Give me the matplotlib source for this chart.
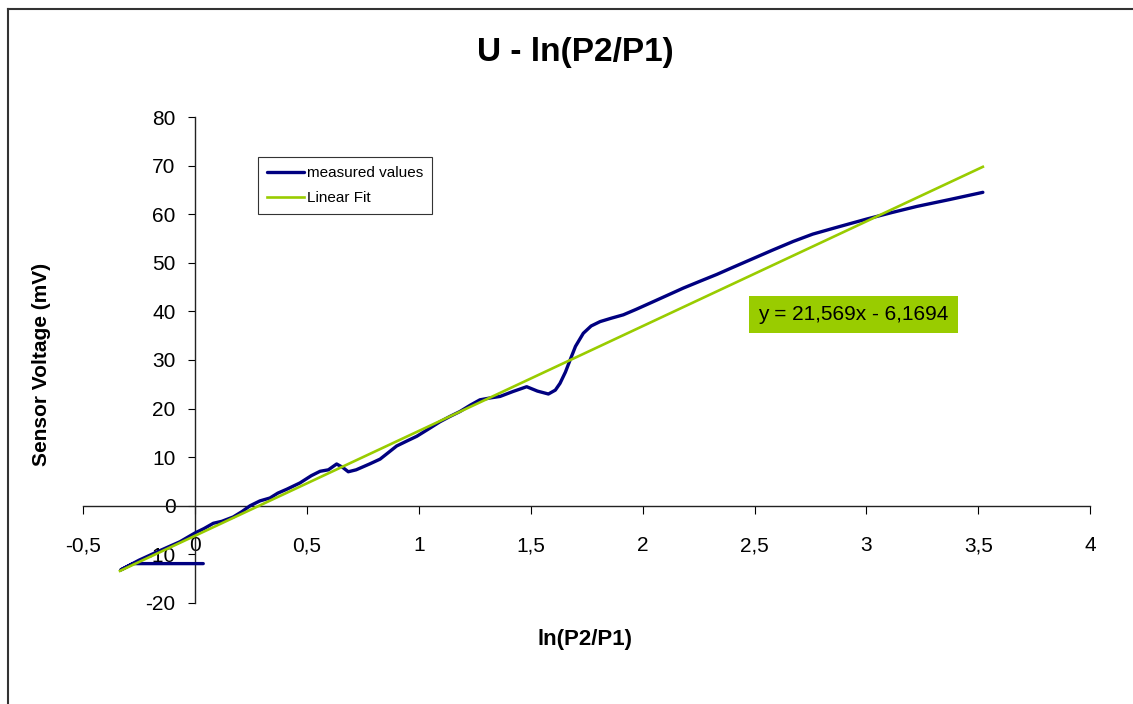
import matplotlib.pyplot as plt
from matplotlib.lines import Line2D

plt.rcParams["font.family"] = ["Liberation Sans", "DejaVu Sans"]
plt.rcParams["axes.unicode_minus"] = False

# measured curve
meas_x = [0.037, -0.276, -0.332, -0.25, -0.16, -0.067, 0.0, 0.04, 0.082, 0.12,
          0.171, 0.21, 0.246, 0.29, 0.335, 0.37, 0.41, 0.469, 0.52, 0.559,
          0.596, 0.633, 0.66, 0.685, 0.72, 0.78, 0.827, 0.86, 0.901, 0.95,
          0.991, 1.04, 1.095, 1.14, 1.184, 1.23, 1.273, 1.32, 1.363, 1.42,
          1.482, 1.53, 1.579, 1.61, 1.631, 1.655, 1.676, 1.70, 1.735, 1.77,
          1.81, 1.86, 1.914, 1.97, 2.033, 2.11, 2.182, 2.256, 2.331, 2.40,
          2.48, 2.58, 2.673, 2.76, 2.852, 2.93, 3.001, 3.11, 3.225, 3.37, 3.52]
meas_y = [-11.9, -11.9, -13.2, -11.2, -9.3, -7.4, -5.6, -4.7, -3.6, -3.2,
          -2.3, -1.2, 0.0, 1.0, 1.6, 2.6, 3.4, 4.7, 6.2, 7.1,
          7.4, 8.6, 7.9, 7.0, 7.4, 8.6, 9.6, 10.8, 12.3, 13.4,
          14.3, 15.7, 17.3, 18.4, 19.4, 20.7, 21.8, 22.2, 22.5, 23.5,
          24.5, 23.6, 23.0, 23.8, 25.2, 27.5, 30.0, 32.8, 35.5, 37.0,
          37.9, 38.6, 39.3, 40.4, 41.7, 43.3, 44.8, 46.2, 47.6, 49.0,
          50.6, 52.6, 54.4, 55.9, 57.1, 58.1, 59.0, 60.3, 61.6, 63.0, 64.5]

# linear fit end points
fit_x = [-0.335, 3.52]
fit_y = [-13.4, 69.75]
fit_label = "y = 21,569x - 6,1694"

x_ticks = [-0.5, 0, 0.5, 1, 1.5, 2, 2.5, 3, 3.5, 4]
x_tick_labels = ["-0,5", "0", "0,5", "1", "1,5", "2", "2,5", "3", "3,5", "4"]
y_ticks = [-20, -10, 0, 10, 20, 30, 40, 50, 60, 70, 80]

navy = "#000080"
lime = "#99CC00"

fig = plt.figure(figsize=(11.33, 7.04), dpi=100)
ax = fig.add_axes([0.0733, 0.1435, 0.889, 0.6903])

ax.plot(meas_x, meas_y, color=navy, lw=2.4, label="measured values",
        solid_joinstyle="round", solid_capstyle="round", zorder=3)
ax.plot(fit_x, fit_y, color=lime, lw=1.9, label="Linear Fit", zorder=4)

ax.set_xlim(-0.5, 4)
ax.set_ylim(-20, 80)
ax.spines["left"].set_position(("data", 0))
ax.spines["bottom"].set_position(("data", 0))
ax.spines["top"].set_visible(False)
ax.spines["right"].set_visible(False)
for s in ("left", "bottom"):
    ax.spines[s].set_color("#222222")
    ax.spines[s].set_linewidth(1.0)

ax.set_xticks(x_ticks)
ax.set_xticklabels(x_tick_labels)
ax.set_yticks(y_ticks)
ax.tick_params(axis="x", direction="out", length=6, pad=16, labelsize=15)
ax.tick_params(axis="y", direction="out", length=5, pad=9, labelsize=15)

fig.text(0.5075, 0.925, "U - ln(P2/P1)", ha="center", va="center",
         fontsize=24, fontweight="bold")
fig.text(0.516, 0.091, "ln(P2/P1)", ha="center", va="center",
         fontsize=16, fontweight="bold")
fig.text(0.037, 0.482, "Sensor Voltage (mV)", ha="center", va="center",
         rotation=90, fontsize=15, fontweight="bold")

ax.text(2.942, 39.4, fit_label, ha="center", va="center", fontsize=15,
        bbox=dict(facecolor=lime, edgecolor="none", pad=6.5), zorder=5)

leg = ax.legend(loc="upper left", bbox_to_anchor=(0.2277, 0.777),
                bbox_transform=fig.transFigure, borderaxespad=0,
                fancybox=False, framealpha=1, edgecolor="#333333",
                fontsize=11, handlelength=2.4, handletextpad=0.2,
                borderpad=0.6, labelspacing=0.7)
leg.get_frame().set_linewidth(0.8)

# outer chart border (left and top only are visible)
fig.add_artist(Line2D([0.0075, 0.0075], [0, 0.987], color="#333333", lw=1.5))
fig.add_artist(Line2D([0.0075, 1], [0.987, 0.987], color="#333333", lw=1.5))

fig.savefig("out.png", dpi=100)
